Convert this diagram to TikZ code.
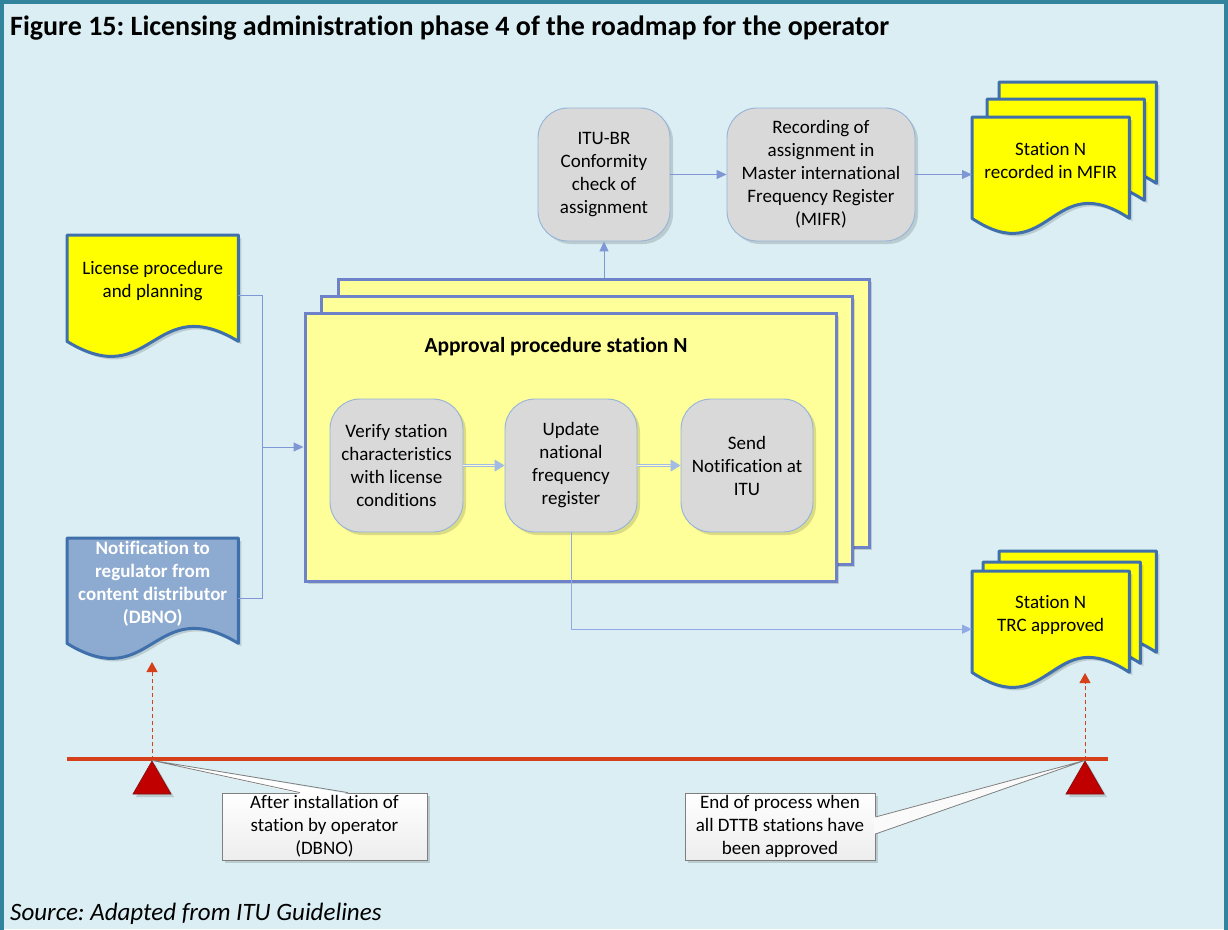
\documentclass[tikz,border=0pt]{standalone}
\usepackage{fontspec}
\setmainfont{Carlito}[Ligatures=NoCommon]
\usetikzlibrary{arrows.meta,shapes.geometric,shadows,calc}
\frenchspacing

\definecolor{bgblue}{HTML}{DAEEF3}
\definecolor{framec}{HTML}{31849B}
\definecolor{docline}{HTML}{3F70AC}
\definecolor{docyellow}{HTML}{FFFF00}
\definecolor{notefill}{HTML}{8DAAD0}
\definecolor{apline}{HTML}{6D82C8}
\definecolor{apfill}{HTML}{FFFF99}
\definecolor{procfill}{HTML}{D9D9D9}
\definecolor{procline}{HTML}{95B3D7}
\definecolor{connc}{HTML}{7F97D5}
\definecolor{lightarr}{HTML}{A2BCE3}
\definecolor{redline}{HTML}{D5401A}
\definecolor{trired}{HTML}{C00000}
\definecolor{tridark}{HTML}{7F1010}
\definecolor{callline}{HTML}{7F7F7F}

% document shape with a wavy lower edge: name, left, top, width, height, shape style, text style, text
\newcommand\wavedoc[8]{%
  \node[inner sep=0pt, minimum width=#4pt, minimum height=#5pt, anchor=north west] (#1) at (#2,#3) {};
  \draw[#6] (#1.north west) -- (#1.north east) -- (#1.south east)
     .. controls +({-#4/2},-52) and +({#4/2},52) .. (#1.south west) -- cycle;
  \node[align=center, #7] (#1t) at ([yshift=7pt]#1.center) {#8};
}

\begin{document}
\begin{tikzpicture}[x=1pt, y=-1pt,
  every node/.style={font=\fontsize{19pt}{23pt}\selectfont},
  softshadow/.style={drop shadow={shadow xshift=3pt, shadow yshift=-3pt, fill=black, opacity=0.14}},
  yellowdoc/.style={draw=docline, fill=docyellow, line width=3pt, line join=round, softshadow},
  bluedoc/.style={draw=docline, fill=notefill, line width=3pt, line join=round, softshadow},
  apbox/.style={draw=apline, fill=apfill, line width=3pt, minimum width=531pt, minimum height=268pt, inner sep=0pt, softshadow},
  proc/.style={draw=procline, fill=procfill, line width=0.9pt, rounded corners=30pt, minimum height=133pt, inner sep=0pt, align=center, softshadow},
  conn/.style={draw=connc, line width=1pt, -{Triangle[length=10pt,width=9pt]}},
  plainconn/.style={draw=connc, line width=1pt},
  innerarrow/.style={draw=lightarr, line width=0.9pt, double=apfill!60!white, double distance=1.6pt, -{Triangle[length=10pt,width=12pt]}},
  lightconn/.style={draw=lightarr!90!blue, line width=1pt, -{Triangle[length=10pt,width=9pt]}},
  reddash/.style={draw=redline, line width=1pt, dashed, dash pattern=on 4pt off 3pt, -{Triangle[length=10pt,width=11pt]}},
  callbox/.style={draw=callline, line width=0.8pt, top color=white, bottom color=gray!14, align=center, inner sep=0pt, softshadow},
  marker/.style={regular polygon, regular polygon sides=3, minimum size=44pt, inner sep=0pt, fill=trired, draw=tridark, line width=0.6pt, softshadow}
]
\useasboundingbox (0,0) rectangle (1228,929);
\fill[bgblue] (0,0) rectangle (1228,929);
\draw[framec, line width=4pt] (2,940) -- (2,2) -- (1226,2) -- (1226,940);

% headings
\node[anchor=base west, inner sep=0pt, font=\bfseries\fontsize{28pt}{32pt}\selectfont] (title) at (10,35)
  {Figure 15: Licensing administration phase 4 of the roadmap for the operator};
\node[anchor=base west, inner sep=0pt, font=\itshape\fontsize{25pt}{29pt}\selectfont] (source) at (10,920)
  {Source: Adapted from ITU Guidelines};

% inputs on the left
\wavedoc{lic}{67}{235}{171}{106}{yellowdoc}{}{License procedure\\and planning}
\wavedoc{note}{67}{538}{171}{105}{bluedoc}{text=white, font=\bfseries\fontsize{19pt}{23pt}\selectfont}{Notification to\\regulator from\\content distributor\\(DBNO)}

% stacked approval procedure frames
\node[apbox] (ap3) at (603.5,413) {};
\node[apbox] (ap2) at (586.5,430) {};
\node[apbox] (ap1) at (570.5,447) {};
\node[font=\bfseries\fontsize{21.5pt}{25pt}\selectfont] (aptitle) at (556,347) {Approval procedure station N};

\node[proc, minimum width=133pt] (verify) at (396.5,465.5) {Verify station\\characteristics\\with license\\conditions};
\node[proc, minimum width=132pt] (update) at (571,465.5) {Update\\national\\frequency\\register};
\node[proc, minimum width=132pt] (send) at (747,465.5) {Send\\Notification at\\ITU};

% ITU-BR steps
\node[proc, minimum width=132pt] (itu) at (604,174.5) {ITU-BR\\Conformity\\check of\\assignment};
\node[proc, minimum width=188pt] (rec) at (821,174.5) {Recording of\\assignment in\\Master international\\Frequency Register\\(MIFR)};

% output documents
\wavedoc{mfirc}{999}{82}{157}{101}{yellowdoc}{}{}
\wavedoc{mfirb}{987}{99}{157}{101}{yellowdoc}{}{}
\wavedoc{mfira}{972}{117}{157}{101}{yellowdoc}{}{Station N\\recorded in MFIR}
\wavedoc{trcc}{999}{551}{157}{101}{yellowdoc}{}{}
\wavedoc{trcb}{983}{562}{157}{101}{yellowdoc}{}{}
\wavedoc{trca}{972}{571}{157}{101}{yellowdoc}{}{Station N\\TRC approved}

% connectors
\coordinate (join) at (262,447);
\draw[plainconn] ([yshift=-7pt]lic.east) -| (join);
\draw[plainconn] ([yshift=-8pt]note.east) -| (join);
\draw[conn] (join) -- (ap1.west);
\draw[innerarrow] (verify.east) -- (update.west);
\draw[innerarrow] (update.east) -- (send.west);
\draw[conn] (ap3.north -| itu.south) -- (itu.south);
\draw[conn] (itu.east) -- (rec.west);
\draw[conn] (rec.east) -- (rec.east -| mfira.west);
\draw[lightconn] (update.south) |- ([yshift=-7.5pt]trca.west);

% time line with milestones
\coordinate (tlstart) at (67,759);
\coordinate (tlend) at (1108,759);
\draw[redline, line width=3.5pt] (tlstart) -- (tlend);
\node[marker] (m1) at (152,783) {};
\node[marker] (m2) at (1085,783) {};
\coordinate (up1) at (152,662);
\coordinate (up2) at (1085,673);
\draw[reddash] (m1.corner 1) -- (up1);
\draw[reddash] (m2.corner 1) -- (up2);

% callouts
\node[callbox, minimum width=205pt, minimum height=67pt] (c1) at (324.5,826.5) {After installation of\\station by operator\\(DBNO)};
\fill[white] ([xshift=-24.5pt,yshift=-1.2pt]c1.north) -- (m1.corner 1) -- ([xshift=23.5pt,yshift=-1.2pt]c1.north) -- cycle;
\draw[callline, line width=0.8pt, line join=round] ([xshift=-24.5pt]c1.north) -- (m1.corner 1) -- ([xshift=23.5pt]c1.north);

\node[callbox, minimum width=190pt, minimum height=67pt] (c2) at (780,826.5) {End of process when\\all DTTB stations have\\been approved};
\fill[white!96!gray] ([xshift=-1.2pt,yshift=9.5pt]c2.east) -- (m2.corner 1) -- ([xshift=-1.2pt,yshift=-7.5pt]c2.east) -- cycle;
\draw[callline, line width=0.8pt, line join=round] ([yshift=9.5pt]c2.east) -- (m2.corner 1) -- ([yshift=-7.5pt]c2.east);
\end{tikzpicture}
\end{document}
